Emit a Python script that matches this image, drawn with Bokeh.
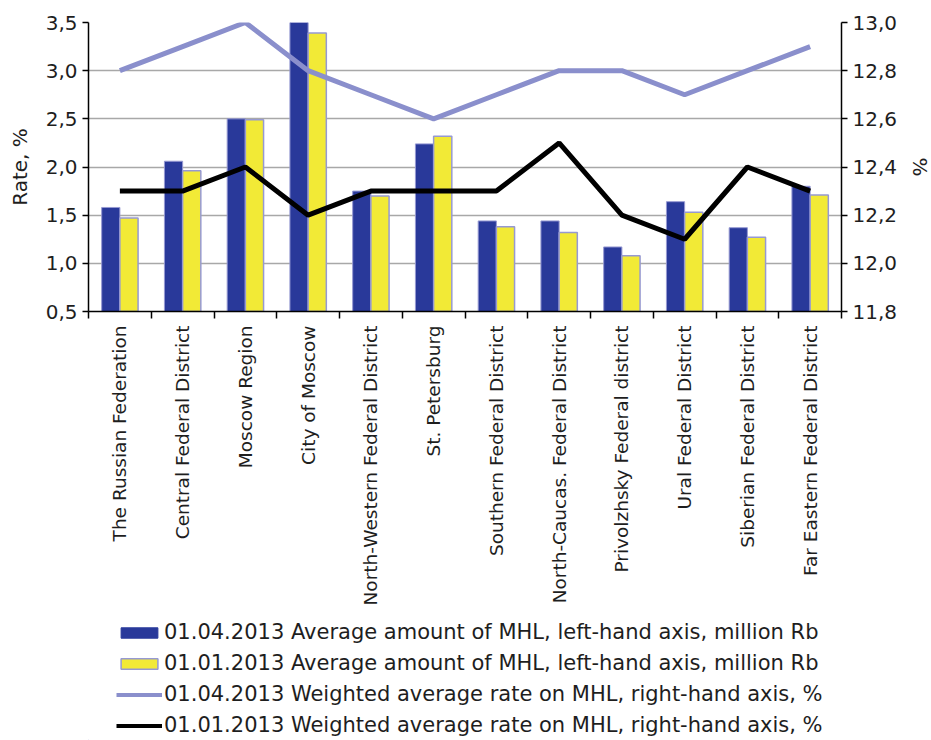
from bokeh.plotting import figure
from bokeh.layouts import column
from bokeh.models import (Range1d, LinearAxis, FixedTicker, CustomJSTickFormatter,
                          Legend, LegendItem, ColumnDataSource)
from bokeh.embed import file_html
from bokeh.resources import INLINE
from math import pi

categories = ["The Russian Federation", "Central Federal District", "Moscow Region",
              "City of Moscow", "North-Western Federal District", "St. Petersburg",
              "Southern Federal District", "North-Caucas. Federal District",
              "Privolzhsky Federal district", "Ural Federal District",
              "Siberian Federal District", "Far Eastern Federal District"]
amount_0401 = [1.58, 2.06, 2.50, 3.55, 1.75, 2.24, 1.44, 1.44, 1.17, 1.64, 1.37, 1.80]
amount_0101 = [1.47, 1.96, 2.49, 3.39, 1.70, 2.32, 1.38, 1.32, 1.08, 1.53, 1.27, 1.71]
rate_0401 = [12.8, 12.9, 13.0, 12.8, 12.7, 12.6, 12.7, 12.8, 12.8, 12.7, 12.8, 12.9]
rate_0101 = [12.3, 12.3, 12.4, 12.2, 12.3, 12.3, 12.3, 12.5, 12.2, 12.1, 12.4, 12.3]
left_ticks = [0.5, 1.0, 1.5, 2.0, 2.5, 3.0, 3.5]
right_ticks = [11.8, 12.0, 12.2, 12.4, 12.6, 12.8, 13.0]
legend_labels = ["01.04.2013 Average amount of MHL, left-hand axis, million Rb",
                 "01.01.2013 Average amount of MHL, left-hand axis, million Rb",
                 "01.04.2013 Weighted average rate on MHL, right-hand axis, %",
                 "01.01.2013 Weighted average rate on MHL, right-hand axis, %"]

FONT = "DejaVu Sans"
BLUE = "#29399A"
YELLOW = "#F2EA36"
LILAC = "#8A8FCC"
OUTLINE = "#9699D2"
TXT = "#1E1E1E"

n = len(categories)
centers = [i + 0.5 for i in range(n)]
src = ColumnDataSource(dict(
    x=centers,
    xa=[c - 0.145 for c in centers],
    xb=[c + 0.145 for c in centers],
    a=amount_0401, b=amount_0101, r1=rate_0401, r2=rate_0101,
))

p = figure(frame_width=753, frame_height=289, x_range=Range1d(0, n),
           y_range=Range1d(left_ticks[0], left_ticks[-1]),
           output_backend="svg", toolbar_location=None,
           min_border_left=88, min_border_right=90, min_border_top=22,
           min_border_bottom=0, border_fill_color="white")
p.extra_y_ranges = {"rate": Range1d(right_ticks[0], right_ticks[-1])}
p.outline_line_color = None
p.background_fill_color = "white"

fmt = CustomJSTickFormatter(code="return tick.toFixed(1).replace('.', ',');")

yax = p.yaxis[0]
yax.ticker = FixedTicker(ticks=left_ticks)
yax.formatter = fmt
yax.axis_label = "Rate, %"

rax = LinearAxis(y_range_name="rate", axis_label="%",
                 ticker=FixedTicker(ticks=right_ticks), formatter=fmt)
p.add_layout(rax, "right")

for ax in [yax, rax]:
    ax.axis_line_color = "black"
    ax.axis_line_width = 1.5
    ax.major_tick_line_color = "black"
    ax.major_tick_line_width = 1.5
    ax.major_tick_out = 6
    ax.major_tick_in = 0
    ax.minor_tick_line_color = None
    ax.major_label_text_font = FONT
    ax.major_label_text_font_size = "20px"
    ax.major_label_text_color = TXT
    ax.major_label_standoff = 5
    ax.axis_label_text_font = FONT
    ax.axis_label_text_font_size = "20px"
    ax.axis_label_text_font_style = "normal"
    ax.axis_label_text_color = TXT
yax.axis_label_standoff = 11
rax.axis_label_standoff = 8

xax = p.xaxis[0]
xax.ticker = FixedTicker(ticks=centers, minor_ticks=list(range(n + 1)))
xax.major_label_overrides = {c: name for c, name in zip(centers, categories)}
xax.major_label_orientation = pi / 2
xax.major_tick_out = 0
xax.major_tick_in = 0
xax.minor_tick_out = 7
xax.minor_tick_in = 0
xax.minor_tick_line_color = "black"
xax.minor_tick_line_width = 1.5
xax.axis_line_color = "black"
xax.axis_line_width = 1.5
xax.major_label_text_font = FONT
xax.major_label_text_font_size = "18.5px"
xax.major_label_text_color = TXT
xax.major_label_standoff = 7

p.xgrid.visible = False
p.ygrid.ticker = FixedTicker(ticks=left_ticks)
p.ygrid.grid_line_color = "#A8A8A8"
p.ygrid.grid_line_width = 1.5

p.vbar(x="xa", top="a", bottom=left_ticks[0], width=0.29, source=src,
       fill_color=BLUE, line_color=OUTLINE, line_width=1)
p.vbar(x="xb", top="b", bottom=left_ticks[0], width=0.29, source=src,
       fill_color=YELLOW, line_color=OUTLINE, line_width=1.5)
p.line(x="x", y="r1", source=src, y_range_name="rate",
       line_color=LILAC, line_width=5)
p.line(x="x", y="r2", source=src, y_range_name="rate",
       line_color="black", line_width=5)

# legend strip (its sample renderers hold points outside the visible range)
q = figure(width=931, height=132, x_range=Range1d(0, 1), y_range=Range1d(0, 1),
           x_axis_type=None, y_axis_type=None, output_backend="svg",
           toolbar_location=None, min_border=0, border_fill_color="white")
q.outline_line_color = None
q.grid.visible = False
dummy = ColumnDataSource(dict(x=[-10.0, -11.0], y=[-10.0, -11.0]))
d_a = q.vbar(x="x", top="y", width=0.1, source=dummy, fill_color=BLUE, line_color=BLUE)
d_b = q.vbar(x="x", top="y", width=0.1, source=dummy, fill_color=YELLOW,
             line_color=OUTLINE, line_width=1.5)
d_l1 = q.line(x="x", y="y", source=dummy, line_color=LILAC, line_width=4)
d_l2 = q.line(x="x", y="y", source=dummy, line_color="black", line_width=4)

legend = Legend(items=[LegendItem(label=legend_labels[0], renderers=[d_a]),
                       LegendItem(label=legend_labels[1], renderers=[d_b]),
                       LegendItem(label=legend_labels[2], renderers=[d_l1]),
                       LegendItem(label=legend_labels[3], renderers=[d_l2])],
                location=(28, 3), orientation="vertical",
                border_line_color=None, background_fill_alpha=0,
                label_text_font=FONT, label_text_font_size="21px",
                label_text_color=TXT,
                glyph_width=46, glyph_height=13, label_height=24,
                spacing=7, padding=0, margin=0, label_standoff=2)
q.add_layout(legend, "center")

open("out.html", "w").write(file_html(column(p, q, spacing=0), INLINE))
